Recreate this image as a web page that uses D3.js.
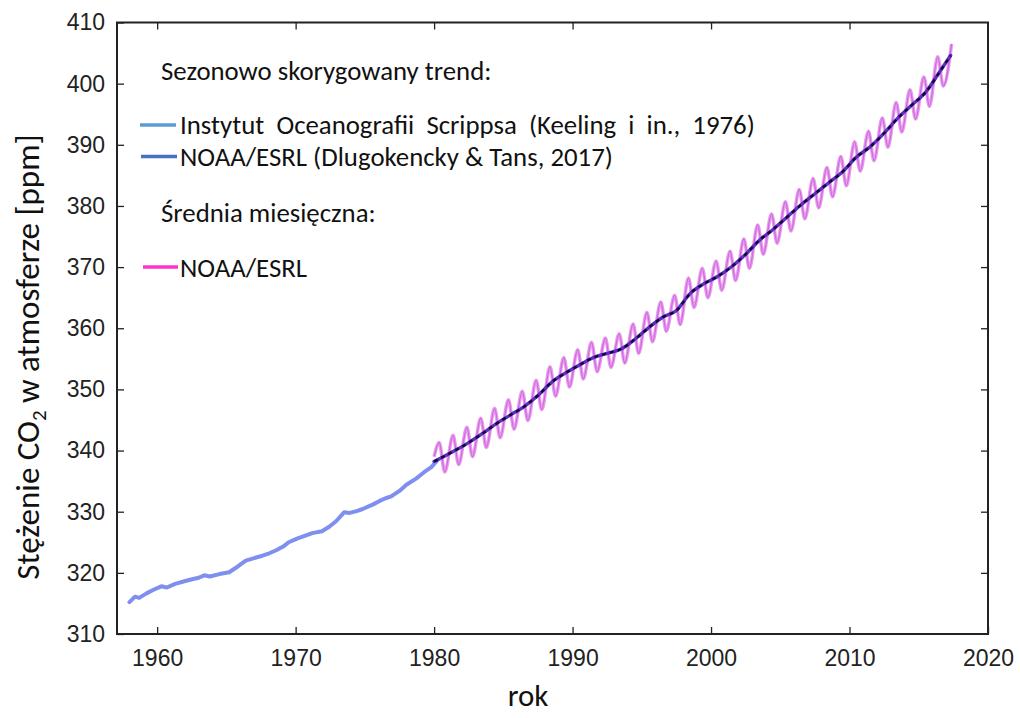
<!DOCTYPE html>
<html>
<head>
<meta charset="utf-8">
<script src="https://cdn.jsdelivr.net/npm/d3@7"></script>
<style>
  body { margin: 0; background: #fff; }
  text { white-space: pre; }
</style>
</head>
<body>
<div id="chart"></div>
<script>
// Scripps seasonally adjusted trend (1958-1980)
var scrippsYears = [1958.0, 1958.4, 1958.7, 1959.2, 1959.7, 1960.3, 1960.7, 1961.3, 1962.1, 1962.6,
  1963.0, 1963.4, 1963.8, 1964.5, 1965.2, 1965.8, 1966.4, 1967.0, 1967.6, 1968.1,
  1968.6, 1969.1, 1969.5, 1970.1, 1970.7, 1971.2, 1971.9, 1972.4, 1972.9, 1973.5,
  1973.9, 1974.4, 1974.8, 1975.6, 1976.1, 1976.5, 1976.9, 1977.5, 1978.0, 1978.7,
  1979.3, 1979.8, 1980.2];
var scrippsValues = [315.2, 316.1, 315.9, 316.6, 317.2, 317.8, 317.6, 318.2, 318.7, 319.0,
  319.2, 319.6, 319.4, 319.8, 320.1, 321.0, 322.0, 322.4, 322.8, 323.2,
  323.7, 324.3, 325.0, 325.6, 326.1, 326.5, 326.8, 327.5, 328.4, 329.9,
  329.8, 330.1, 330.4, 331.2, 331.8, 332.2, 332.5, 333.4, 334.4, 335.4,
  336.5, 337.3, 338.3];

// NOAA/ESRL seasonally adjusted trend
var noaaTrendYears = [1980.0, 1980.5, 1981.5, 1982.5, 1983.5, 1984.5, 1985.5, 1986.5, 1987.5, 1988.5,
  1989.5, 1990.5, 1991.5, 1992.5, 1993.5, 1994.5, 1995.5, 1996.5, 1997.5, 1998.5,
  1999.5, 2000.5, 2001.5, 2002.5, 2003.5, 2004.5, 2005.5, 2006.5, 2007.5, 2008.5,
  2009.5, 2010.5, 2011.5, 2012.5, 2013.5, 2014.5, 2015.5, 2016.5, 2017.3];
var noaaTrendValues = [338.2, 338.8, 340.0, 341.3, 342.8, 344.4, 345.8, 347.2, 349.0, 351.2,
  352.7, 354.0, 355.2, 355.9, 356.6, 358.2, 360.1, 361.8, 362.9, 365.7,
  367.3, 368.5, 370.1, 372.1, 374.4, 376.2, 378.2, 380.2, 382.0, 383.8,
  385.6, 388.0, 389.7, 391.9, 394.4, 396.5, 398.6, 401.9, 404.6];

// NOAA/ESRL monthly mean: seasonal maxima (May) and minima (Sep/Oct)
var noaaMonthlyYears = [1980.0,
  1980.37, 1980.77, 1981.37, 1981.77, 1982.37, 1982.77, 1983.37, 1983.77, 1984.37, 1984.77,
  1985.37, 1985.77, 1986.37, 1986.77, 1987.37, 1987.77, 1988.37, 1988.77, 1989.37, 1989.77,
  1990.37, 1990.77, 1991.37, 1991.77, 1992.37, 1992.77, 1993.37, 1993.77, 1994.37, 1994.77,
  1995.37, 1995.77, 1996.37, 1996.77, 1997.37, 1997.77, 1998.37, 1998.77, 1999.37, 1999.77,
  2000.37, 2000.77, 2001.37, 2001.77, 2002.37, 2002.77, 2003.37, 2003.77, 2004.37, 2004.77,
  2005.37, 2005.77, 2006.37, 2006.77, 2007.37, 2007.77, 2008.37, 2008.77, 2009.37, 2009.77,
  2010.37, 2010.77, 2011.37, 2011.77, 2012.37, 2012.77, 2013.37, 2013.77, 2014.37, 2014.77,
  2015.37, 2015.77, 2016.37, 2016.77, 2017.37];
var noaaMonthlyValues = [339.0,
  341.3, 336.5, 342.5, 337.7, 343.8, 339.0, 345.3, 340.5, 346.9, 342.1,
  348.3, 343.5, 349.7, 344.9, 351.5, 346.7, 353.7, 348.9, 355.2, 350.4,
  356.5, 351.7, 357.7, 352.9, 358.4, 353.6, 359.1, 354.3, 360.7, 355.9,
  362.6, 357.8, 364.3, 359.5, 365.4, 360.6, 368.2, 363.4, 369.8, 365.0,
  371.0, 366.2, 372.6, 367.8, 374.6, 369.8, 376.9, 372.1, 378.7, 373.9,
  380.7, 375.9, 382.7, 377.9, 384.5, 379.7, 386.3, 381.5, 388.1, 383.3,
  390.5, 385.7, 392.2, 387.4, 394.4, 389.6, 396.9, 392.1, 399.0, 394.2,
  401.1, 396.3, 404.4, 399.6, 406.5];

var xTicks = [1960, 1970, 1980, 1990, 2000, 2010, 2020];
var yTicks = [310, 320, 330, 340, 350, 360, 370, 380, 390, 400, 410];

var width = 1020, height = 718;
var margin = { top: 22.5, right: 32, bottom: 84, left: 117 };
var innerW = width - margin.left - margin.right;
var innerH = height - margin.top - margin.bottom;

var svg = d3.select("#chart").append("svg")
  .attr("width", width)
  .attr("height", height);

var g = svg.append("g")
  .attr("transform", "translate(" + margin.left + "," + margin.top + ")");

var x = d3.scaleLinear().domain([1957.1, 2020]).range([0, innerW]);
var y = d3.scaleLinear().domain([310, 410]).range([innerH, 0]);

var tickFont = "'Liberation Sans', Arial, sans-serif";
var labelFont = "Carlito, Lato, 'Open Sans', sans-serif";

// axes (ticks inward, like matlab)
g.append("g").attr("transform", "translate(0," + innerH + ")")
  .call(d3.axisBottom(x).tickValues(xTicks).tickFormat(d3.format("d")).tickSizeInner(-7).tickSizeOuter(0).tickPadding(16));
g.append("g")
  .call(d3.axisLeft(y).tickValues(yTicks).tickSizeInner(-7).tickSizeOuter(0).tickPadding(12));
g.append("g")
  .call(d3.axisTop(x).tickValues(xTicks.slice(0, -1)).tickFormat("").tickSizeInner(-7).tickSizeOuter(0));
g.append("g").attr("transform", "translate(" + innerW + ",0)")
  .call(d3.axisRight(y).tickValues(yTicks.slice(1, -1)).tickFormat("").tickSizeInner(-7).tickSizeOuter(0));

g.selectAll(".domain").remove();
g.selectAll(".tick line").attr("stroke", "#222").attr("stroke-width", 1.3);
g.selectAll(".tick text")
  .style("font-family", tickFont)
  .style("font-size", "23px")
  .attr("fill", "#222");

g.append("rect")
  .attr("width", innerW).attr("height", innerH)
  .attr("fill", "none").attr("stroke", "#222").attr("stroke-width", 2);

// series
var scrippsData = scrippsYears.map(function (d, i) { return [d, scrippsValues[i]]; });
var trendData = noaaTrendYears.map(function (d, i) { return [d, noaaTrendValues[i]]; });
var monthlyData = noaaMonthlyYears.map(function (d, i) { return [d, noaaMonthlyValues[i]]; });

var line = d3.line()
  .x(function (d) { return x(d[0]); })
  .y(function (d) { return y(d[1]); });

g.append("path").datum(scrippsData)
  .attr("d", line.curve(d3.curveLinear))
  .attr("fill", "none").attr("stroke", "#7e8ff0").attr("stroke-width", 4)
  .attr("stroke-linejoin", "round").attr("stroke-linecap", "round");

var smooth = d3.line()
  .x(function (d) { return x(d[0]); })
  .y(function (d) { return y(d[1]); })
  .curve(d3.curveMonotoneX);

g.append("path").datum(monthlyData)
  .attr("d", smooth)
  .attr("fill", "none").attr("stroke", "#e79cec").attr("stroke-width", 3.5)
  .attr("stroke-linejoin", "round");
g.append("path").datum(monthlyData)
  .attr("d", smooth)
  .attr("fill", "none").attr("stroke", "#c84fe0").attr("stroke-width", 1.2)
  .attr("opacity", 0.7);

g.append("path").datum(trendData)
  .attr("d", line.curve(d3.curveMonotoneX))
  .attr("fill", "none").attr("stroke", "#5a2fc0").attr("stroke-width", 3.4)
  .attr("stroke-linecap", "round");
g.append("path").datum(trendData)
  .attr("d", line.curve(d3.curveMonotoneX))
  .attr("fill", "none").attr("stroke", "#120838").attr("stroke-width", 2.4)
  .attr("stroke-dasharray", "4,4");

// legend
function legendText(xp, yp, txt) {
  svg.append("text")
    .attr("x", xp).attr("y", yp)
    .style("font-family", labelFont)
    .style("font-size", "26.8px")
    .attr("fill", "#111")
    .text(txt);
}
function legendLine(x1, x2, yp, col) {
  svg.append("line")
    .attr("x1", x1).attr("x2", x2).attr("y1", yp).attr("y2", yp)
    .attr("stroke", col).attr("stroke-width", 3.5);
}
legendText(161, 80, "Sezonowo skorygowany trend:");
legendLine(140, 176, 125, "#5b9bd5");
legendText(180, 134, "Instytut  Oceanografii  Scrippsa  (Keeling  i  in.,  1976)");
legendLine(141, 177, 156.5, "#4472c4");
legendText(180, 166, "NOAA/ESRL (Dlugokencky & Tans, 2017)");
legendText(161, 222, "Średnia miesięczna:");
legendLine(143, 178, 267, "#ff33cc");
legendText(180, 277, "NOAA/ESRL");

// axis titles
svg.append("text")
  .attr("x", 528).attr("y", 706)
  .attr("text-anchor", "middle")
  .style("font-family", labelFont)
  .style("font-size", "31px")
  .attr("fill", "#111")
  .text("rok");

var yl = svg.append("text")
  .attr("transform", "translate(39,357) rotate(-90)")
  .attr("text-anchor", "middle")
  .style("font-family", labelFont)
  .style("font-size", "33px")
  .attr("fill", "#111");
yl.append("tspan").text("Stężenie CO");
yl.append("tspan").attr("dy", 7).style("font-size", "21px").text("2");
yl.append("tspan").attr("dy", -7).text(" w atmosferze [ppm]");
</script>
</body>
</html>
